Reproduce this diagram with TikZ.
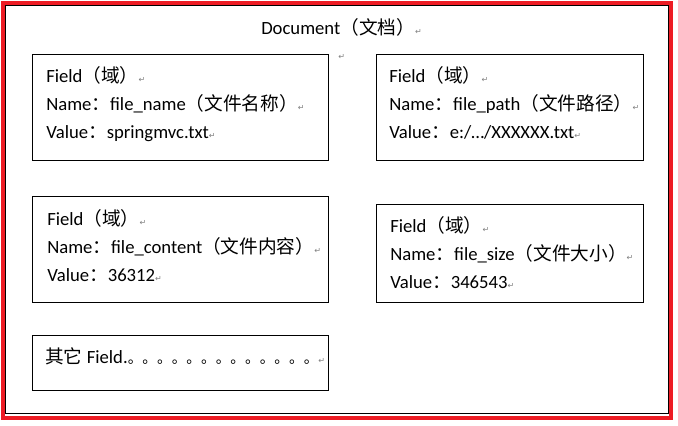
\documentclass[tikz,border=0pt]{standalone}
\usepackage{fontspec}
\setmainfont{Carlito}
\newfontfamily\cjk{Noto Sans CJK SC}
\newfontfamily\dvsans{DejaVu Sans}
\usetikzlibrary{positioning}
\definecolor{framered}{RGB}{237,28,36}
\newcommand{\retmark}{{\dvsans\fontsize{6}{6}\selectfont\color{gray}↵}}
\newcommand{\zh}[1]{{\cjk #1}}

\begin{document}
\begin{tikzpicture}[x=0.75pt,y=-0.75pt
		,every node/.append style={inner sep=0, font=\fontsize{14}{16}\selectfont}
		,field/.style={draw, line width=0.75pt, anchor=north west, minimum height=79.5pt}
		,wide/.style={minimum width=222pt}
		,narrow/.style={minimum width=200.25pt}
		,line/.style={anchor=base west}
	]
	\useasboundingbox (0,0) rectangle (678,425);
	% frames
	\draw [line width=0.75pt] (5,5) rectangle (668,413);
	\draw [framered, line width=3pt] (3,3) rectangle (671,418);

	\node [line] (title) at (261,34) {Document\zh{（文档）}\retmark};
	\node [line] (stray) at (338,59) {\retmark};

	% file name
	\node [field, wide] (name) at (32,54) {};
	\node [line] (name1) at ([shift={(14,28)}]name.north west) {Field\zh{（域）}\retmark};
	\node [line] (name2) at ([shift={(0,28)}]name1.base west) {Name\zh{：}file\_name\zh{（文件名称）}\retmark};
	\node [line] (name3) at ([shift={(0,28)}]name2.base west) {Value\zh{：}springmvc.txt\retmark};

	% file path
	\node [field, narrow] (path) at (376,54) {};
	\node [line] (path1) at ([shift={(13,28)}]path.north west) {Field\zh{（域）}\retmark};
	\node [line] (path2) at ([shift={(0,28)}]path1.base west) {Name\zh{：}file\_path\zh{（文件路径）}\retmark};
	\node [line] (path3) at ([shift={(0,28)}]path2.base west) {Value\zh{：}e:/…/XXXXXX.txt\retmark};

	% file content
	\node [field, wide] (content) at (32,196) {};
	\node [line] (content1) at ([shift={(15,29)}]content.north west) {Field\zh{（域）}\retmark};
	\node [line] (content2) at ([shift={(0,28)}]content1.base west) {Name\zh{：}file\_content\zh{（文件内容）}\retmark};
	\node [line] (content3) at ([shift={(0,28)}]content2.base west) {Value\zh{：}36312\retmark};

	% file size
	\node [field, narrow, minimum height=73.5pt] (size) at (376,204) {};
	\node [line] (size1) at ([shift={(14,28)}]size.north west) {Field\zh{（域）}\retmark};
	\node [line] (size2) at ([shift={(0,28)}]size1.base west) {Name\zh{：}file\_size\zh{（文件大小）}\retmark};
	\node [line] (size3) at ([shift={(0,28)}]size2.base west) {Value\zh{：}346543\retmark};

	% others
	\node [field, wide, minimum height=41.25pt] (other) at (32,335) {};
	\node [line] (other1) at ([shift={(13,28)}]other.north west)
		{\zh{其它} Field.\zh{\fontsize{11}{11}\selectfont 。。。。。。。。。。。。。}\retmark};
\end{tikzpicture}
\end{document}
